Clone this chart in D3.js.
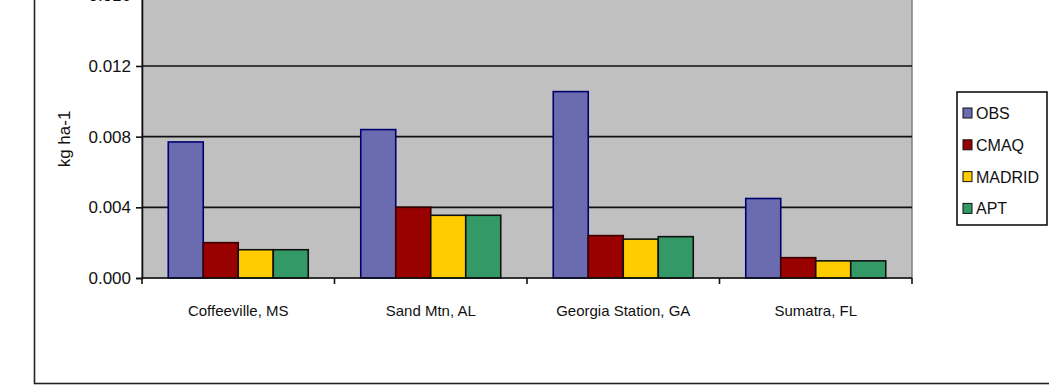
<!DOCTYPE html>
<html>
<head>
<meta charset="utf-8">
<script src="https://cdn.jsdelivr.net/npm/d3@7/dist/d3.min.js"></script>
<style>
  html, body { margin: 0; padding: 0; background: #fff; }
  svg { display: block; font-family: "Liberation Sans", Arial, sans-serif; }
</style>
</head>
<body>
<svg id="chart" width="1049" height="385"></svg>
<script>
// Deposition by site (kg ha-1)
const sites = ["Coffeeville, MS", "Sand Mtn, AL", "Georgia Station, GA", "Sumatra, FL"];
const seriesNames = ["OBS", "CMAQ", "MADRID", "APT"];
const obs    = [0.0077, 0.0084, 0.01055, 0.0045];
const cmaq   = [0.0020, 0.0040, 0.0024, 0.00115];
const madrid = [0.0016, 0.00355, 0.0022, 0.00097];
const apt    = [0.0016, 0.00355, 0.00234, 0.00097];
const yTicks = [0, 0.004, 0.008, 0.012, 0.016];
const yTickLabels = ["0.000", "0.004", "0.008", "0.012", "0.016"];
const yTitle = "kg ha-1";

const fills   = ["#6b6bb0", "#990000", "#ffcc00", "#339966"];
const strokes = ["#000070", "#3a0000", "#111111", "#111111"];

const values = [obs, cmaq, madrid, apt];
const table = sites.map((s, i) => ({ site: s, vals: seriesNames.map((n, k) => ({ name: n, k, v: values[k][i] })) }));

const svg = d3.select("#chart");
const plot = { left: 142, right: 912, bottom: 278 };

const y = d3.scaleLinear().domain([0, 0.016]).range([plot.bottom, -4.7]);
const x0 = d3.scaleBand().domain(sites).range([plot.left, plot.right]).paddingInner(0).paddingOuter(0);
// Excel-style 150% gap: 4 bars + 1.5 bar widths of gap per category
const bw = x0.bandwidth() / 5.5;
const x1 = d3.scaleBand().domain(seriesNames).range([bw * 0.75, bw * 4.75]).padding(0);

// outer chart frame (extends past the top and right edges)
svg.append("rect")
  .attr("x", 34.5).attr("y", -20).attr("width", 1100).attr("height", 403.5)
  .attr("fill", "none").attr("stroke", "#222").attr("stroke-width", 1.6);

// plot area
svg.append("rect")
  .attr("x", plot.left).attr("y", y(0.016))
  .attr("width", plot.right - plot.left).attr("height", plot.bottom - y(0.016))
  .attr("fill", "#c0c0c0").attr("stroke", "#808080").attr("stroke-width", 1.5);

// gridlines
svg.append("g").selectAll("line").data(yTicks.slice(1)).join("line")
  .attr("x1", plot.left).attr("x2", plot.right)
  .attr("y1", d => y(d)).attr("y2", d => y(d))
  .attr("stroke", "#111").attr("stroke-width", 1.6);

// bars
const groups = svg.append("g").selectAll("g").data(table).join("g")
  .attr("transform", d => `translate(${x0(d.site)},0)`);
groups.selectAll("rect").data(d => d.vals).join("rect")
  .attr("x", d => x1(d.name))
  .attr("y", d => y(d.v))
  .attr("width", x1.bandwidth())
  .attr("height", d => y(0) - y(d.v))
  .attr("fill", d => fills[d.k])
  .attr("stroke", d => strokes[d.k])
  .attr("stroke-width", 1.6);

// y axis
const yAxis = d3.axisLeft(y).tickValues(yTicks)
  .tickFormat((d, i) => yTickLabels[i]).tickSize(6).tickPadding(5);
const gy = svg.append("g").attr("transform", `translate(${plot.left},0)`).call(yAxis);
gy.select(".domain").attr("stroke", "#111").attr("stroke-width", 1.6);
gy.selectAll(".tick line").attr("stroke", "#111").attr("stroke-width", 1.6);
gy.selectAll(".tick text").attr("font-size", 17).attr("fill", "#111")
  .attr("font-family", "Liberation Sans, Arial, sans-serif");

// x axis: ticks between categories
const boundaries = d3.range(sites.length + 1).map(i => plot.left + i * x0.bandwidth());
const gx = svg.append("g");
gx.append("line").attr("x1", plot.left).attr("x2", plot.right)
  .attr("y1", plot.bottom).attr("y2", plot.bottom)
  .attr("stroke", "#111").attr("stroke-width", 1.6);
gx.selectAll("line.t").data(boundaries).join("line").attr("class", "t")
  .attr("x1", d => d).attr("x2", d => d)
  .attr("y1", plot.bottom).attr("y2", plot.bottom + 6)
  .attr("stroke", "#111").attr("stroke-width", 1.6);
gx.selectAll("text").data(sites).join("text")
  .attr("x", d => x0(d) + x0.bandwidth() / 2)
  .attr("y", 316)
  .attr("text-anchor", "middle")
  .attr("font-size", 15).attr("fill", "#111")
  .text(d => d);

// y title
svg.append("text")
  .attr("transform", "translate(70,139) rotate(-90)")
  .attr("text-anchor", "middle")
  .attr("font-size", 17).attr("fill", "#111")
  .text(yTitle);

// legend
const lg = svg.append("g");
lg.append("rect").attr("x", 957).attr("y", 92).attr("width", 90).attr("height", 133)
  .attr("fill", "#fff").attr("stroke", "#111").attr("stroke-width", 1.6);
const items = lg.selectAll("g").data(seriesNames).join("g")
  .attr("transform", (d, i) => `translate(963,${113 + i * 31.8})`);
items.append("rect").attr("x", 0).attr("y", -5).attr("width", 9).attr("height", 10)
  .attr("fill", (d, i) => fills[i]).attr("stroke", "#111").attr("stroke-width", 1);
items.append("text").attr("x", 13).attr("y", 6)
  .attr("font-size", 16).attr("fill", "#111")
  .text(d => d);
</script>
</body>
</html>
